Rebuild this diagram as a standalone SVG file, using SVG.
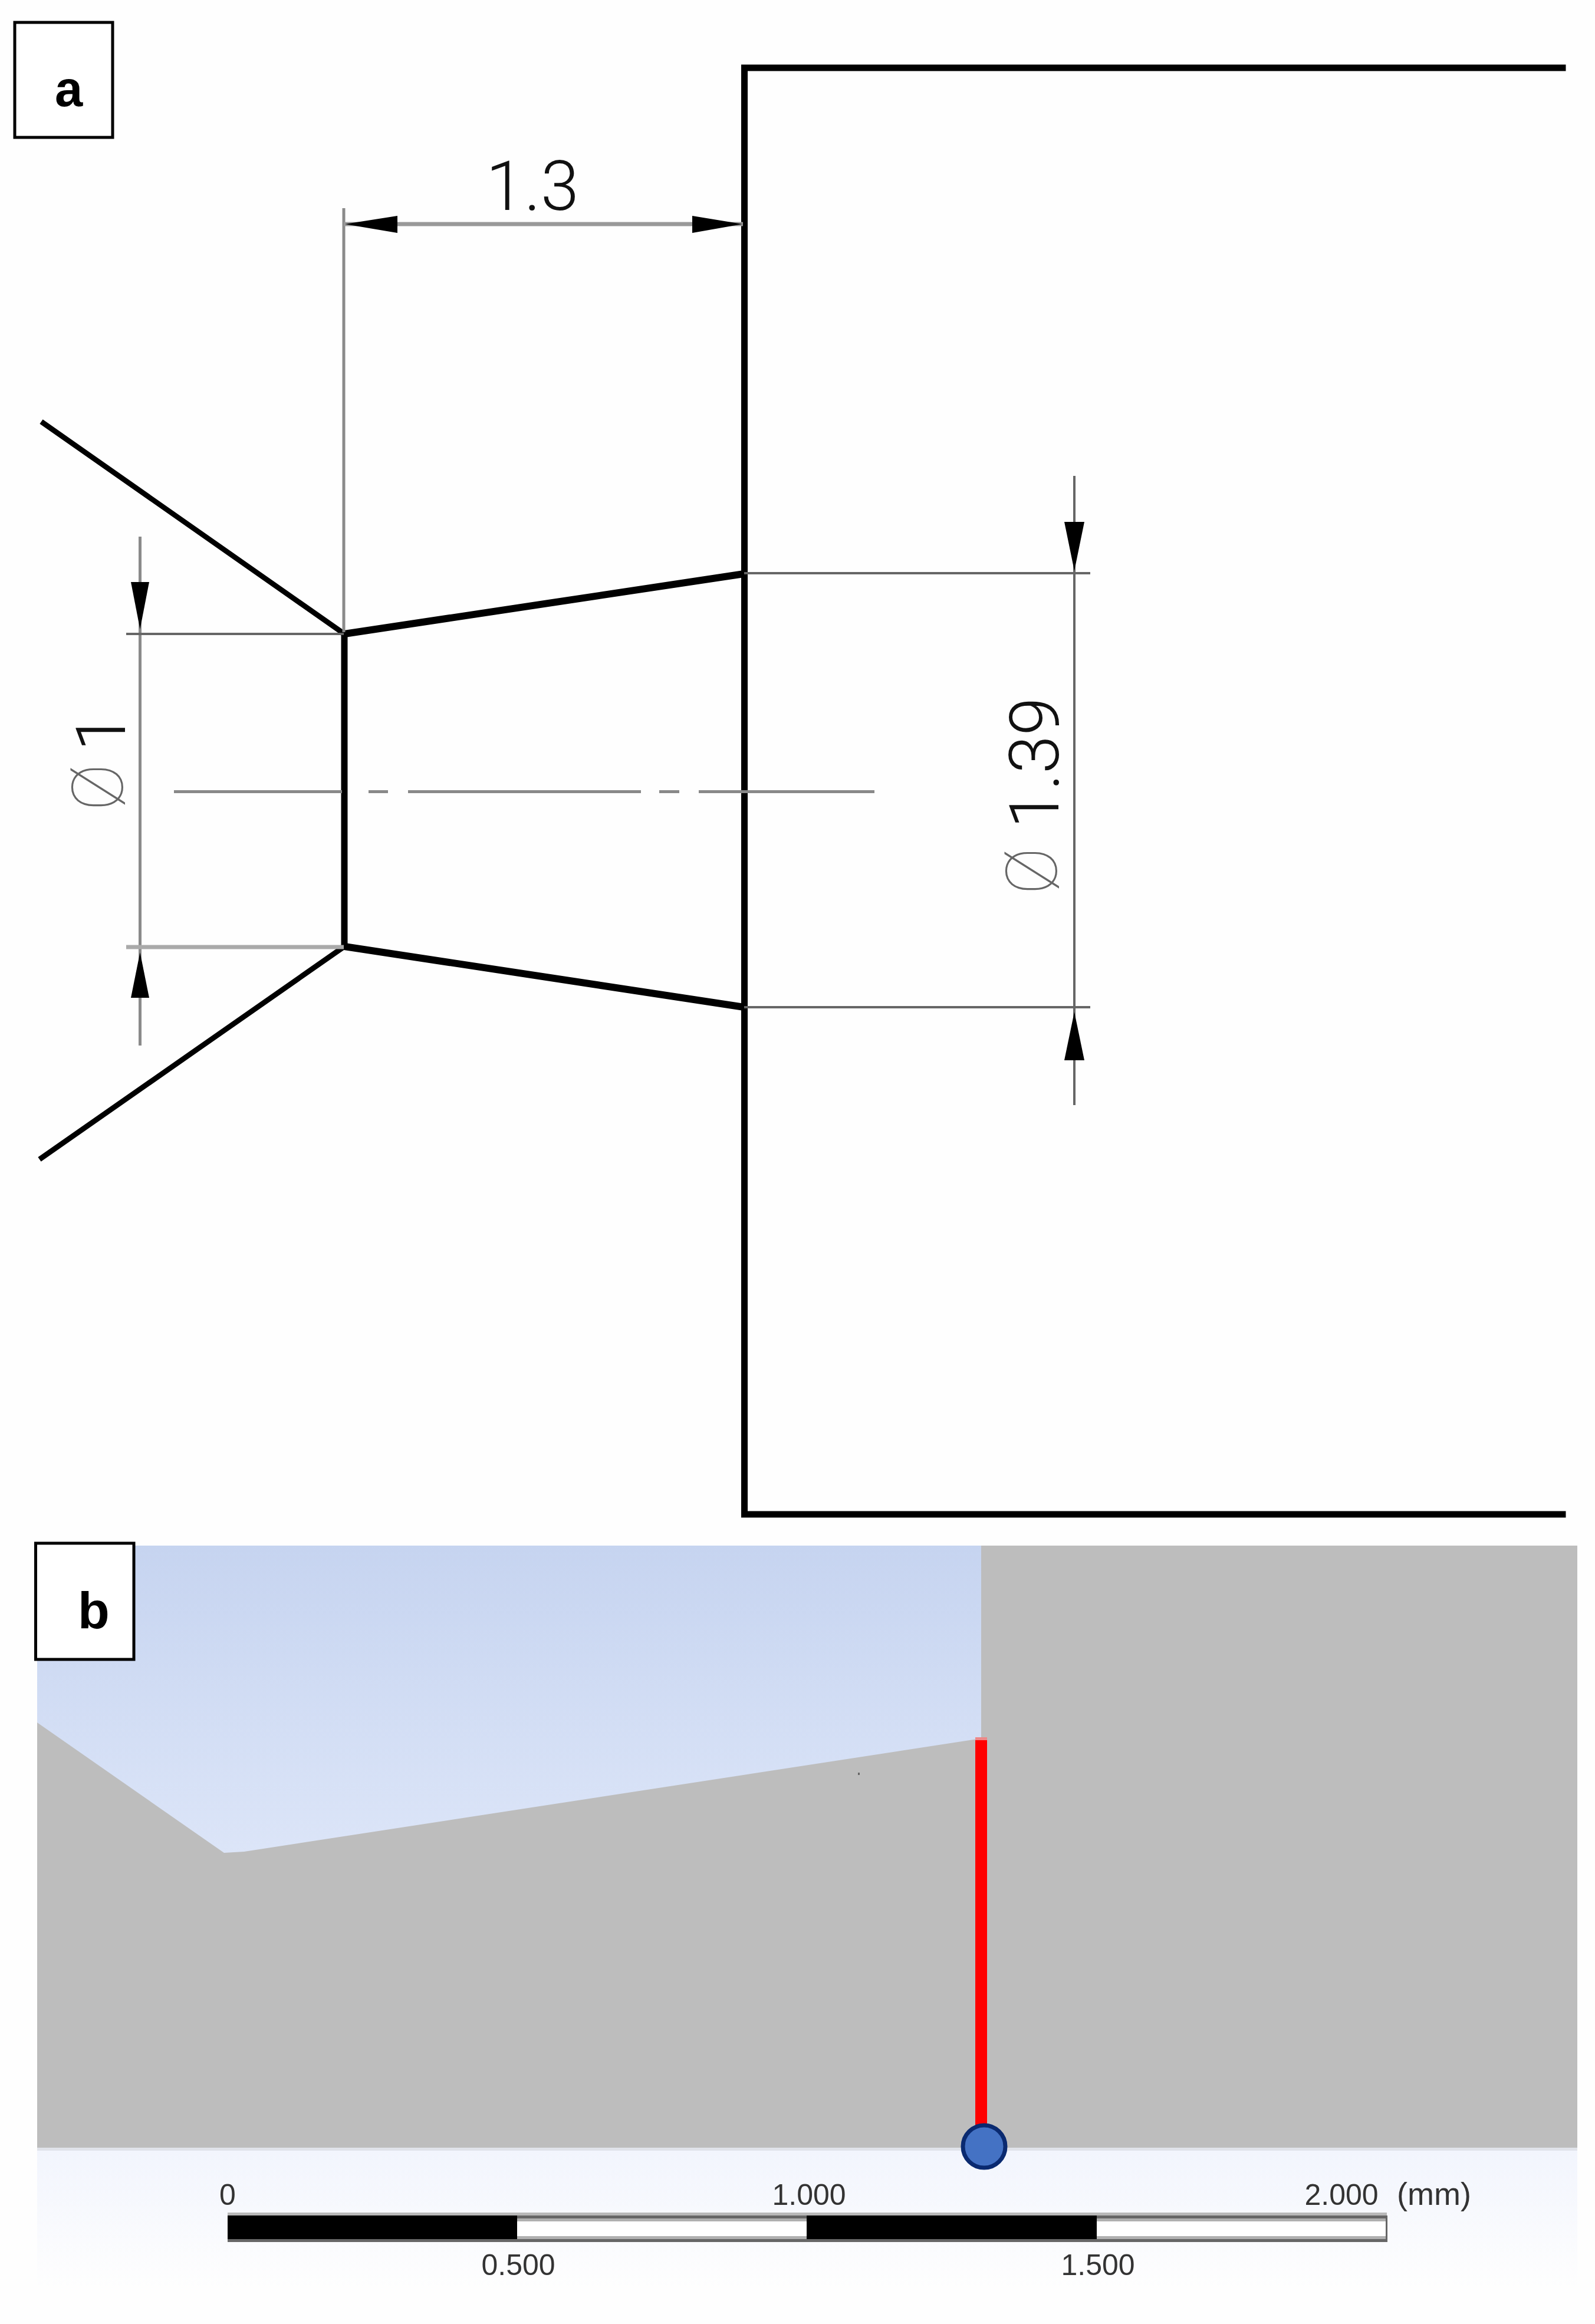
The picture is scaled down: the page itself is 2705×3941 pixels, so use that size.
<svg xmlns="http://www.w3.org/2000/svg" width="2705" height="3941" viewBox="0 0 2705 3941">
<style>
.thick{fill:none;stroke:#000;stroke-width:11;stroke-linecap:square}
.taper{fill:none;stroke:#000;stroke-width:12;stroke-linecap:round}
.mid{fill:none;stroke:#000;stroke-width:9}
.dim{stroke:#8a8a8a;stroke-width:5;fill:none}
.dark{stroke:#666;stroke-width:4;fill:none}
.head{fill:#000}
.box{fill:#fff;stroke:#000;stroke-width:5}
.lab{font-family:"Liberation Sans",Arial,sans-serif;font-weight:700;font-size:85px;fill:#000}
.num{font-family:"Roboto","Liberation Sans",sans-serif;font-weight:300;font-size:117px;fill:#111}
.phi{font-family:"Roboto","Liberation Sans",sans-serif;font-weight:100;font-size:120px;fill:#666;text-anchor:middle}
.sc{font-family:"Liberation Sans",Arial,sans-serif;font-size:50px;fill:#333;text-anchor:middle}
</style>
<defs>
<linearGradient id="sky" x1="0" y1="2621" x2="0" y2="3142" gradientUnits="userSpaceOnUse"><stop offset="0" stop-color="#c6d4f0"/><stop offset="1" stop-color="#dce5f8"/></linearGradient>
<linearGradient id="foot" x1="0" y1="3647" x2="0" y2="3880" gradientUnits="userSpaceOnUse"><stop offset="0" stop-color="#f2f5fd"/><stop offset="1" stop-color="#fefefe"/></linearGradient>
</defs>
<rect width="2705" height="3941" fill="#fefefe"/>
<g id="panel-a">
<g id="geometry">
<path class="thick" d="M2650 115H1262.5V2568H2650"/>
<path class="thick" d="M584 1075V1605"/>
<path class="taper" d="M584 1075L1262 973M584 1605L1262 1708"/>
<path class="mid" d="M70 715L584 1075M67 1966L584 1605"/>
</g>
<g id="centerline"><path d="M295 1342.5H580M625 1342.500H658M692 1342.500H1087M1118 1342.500H1152M1185 1342.500H1483" stroke="#888" stroke-width="5" fill="none"/></g>
<g id="dim-1-3">
<path class="dim" d="M583 353V1072"/>
<path d="M583 380H1260" stroke="#999" stroke-width="7" fill="none"/>
<polygon class="head" points="585,380 674,366 674,395"/>
<polygon class="head" points="1259,380 1174,366 1174,395"/>
<text class="num" x="824" y="356">1.3</text>
</g>
<g id="dim-phi-1">
<path class="dim" d="M237.500 910V1773"/>
<path class="dark" d="M214 1075H583"/>
<path d="M214 1606H583" stroke="#aaa" stroke-width="7" fill="none"/>
<polygon class="head" points="237.500,1067 222,987 253,987"/>
<polygon class="head" points="237.500,1615 222,1692 253,1692"/>
<text class="phi" transform="translate(208 1335) rotate(-90)">Ø</text>
<text class="num" transform="translate(212 1274) rotate(-90)">1</text>
</g>
<g id="dim-phi-1-39">
<path class="dark" d="M1822 807V1874M1262 972H1849M1262 1708H1849"/>
<polygon class="head" points="1822,968 1805,885 1839,885"/>
<polygon class="head" points="1822,1716 1805,1798 1839,1798"/>
<text class="phi" transform="translate(1792 1477) rotate(-90)">Ø</text>
<text class="num" transform="translate(1795 1405) rotate(-90)">1.39</text>
</g>
<g id="label-a"><rect class="box" x="25" y="38" width="166" height="195"/><text class="lab" x="93" y="180">a</text></g>
</g>
<g id="panel-b">
<rect x="63" y="2621" width="1601" height="530" fill="url(#sky)"/>
<path d="M63 2921L380 3142L414 3140L1664 2948V2621H2675V3642H63Z" fill="#bdbdbd"/>
<rect x="63" y="3642" width="2612" height="5" fill="#e0e3ea"/>
<rect x="63" y="3647" width="2612" height="294" fill="url(#foot)"/>
<rect x="1455" y="3006" width="3" height="4" fill="#666"/>
<g id="probe"><rect x="1654" y="2951" width="20" height="660" fill="#f00"/><rect x="1654" y="2946" width="20" height="5" fill="#e88"/><circle cx="1669" cy="3640" r="36" fill="#4472c4" stroke="#0a2a70" stroke-width="7"/></g>
<g id="scale-bar">
<rect x="386" y="3752" width="1966" height="5" fill="#b8b8b8"/>
<rect x="386" y="3757" width="1967" height="45" fill="#666"/>
<rect x="386" y="3757" width="491" height="40" fill="#000"/>
<rect x="877" y="3762" width="491" height="35" fill="#b0b0b0"/><rect x="877" y="3767" width="491" height="25" fill="#fff"/>
<rect x="1368" y="3757" width="492" height="40" fill="#000"/>
<rect x="1860" y="3762" width="490" height="35" fill="#b0b0b0"/><rect x="1860" y="3767" width="490" height="25" fill="#fff"/>
<text class="sc" x="386" y="3739">0</text>
<text class="sc" x="1372" y="3739">1.000</text>
<text class="sc" x="2275" y="3739">2.000</text>
<text class="sc" x="2432" y="3739" style="font-size:54px">(mm)</text>
<text class="sc" x="879" y="3858">0.500</text>
<text class="sc" x="1862" y="3858">1.500</text>
</g>
<g id="label-b"><rect class="box" x="60.500" y="2617" width="166.500" height="197"/><text class="lab" x="132" y="2761" style="font-size:88px">b</text></g>
</g>
</svg>
